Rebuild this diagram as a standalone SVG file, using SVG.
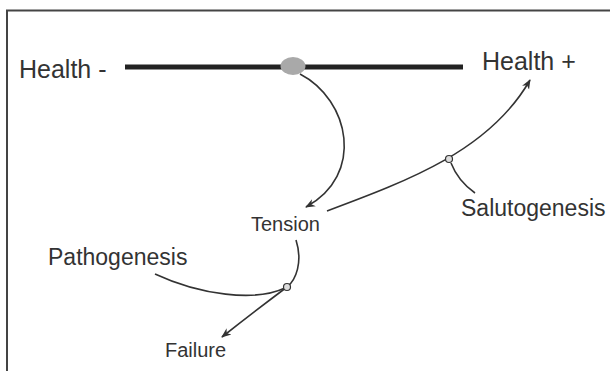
<svg xmlns="http://www.w3.org/2000/svg" width="610" height="371" viewBox="0 0 610 371">
<style>
text{font-family:"Liberation Sans",Arial,sans-serif;fill:#333}
.big{font-size:25px}
.mid{font-size:23px}
.sm{font-size:20px}
.c{fill:none;stroke:#333;stroke-width:1.6}
</style>
<defs>
<marker id="ah" viewBox="0 0 10 10" refX="9" refY="5" markerWidth="10" markerHeight="10" markerUnits="userSpaceOnUse" orient="auto">
<path d="M0,1 L10,5 L0,9 L3,5 Z" fill="#333"/>
</marker>
</defs>
<rect width="610" height="371" fill="#fff"/>
<path d="M7,371 V10.5 H610" fill="none" stroke="#444" stroke-width="2"/>
<g id="scale">
<line x1="125" y1="67" x2="463" y2="67" stroke="#222" stroke-width="5"/>
<ellipse cx="293" cy="66" rx="12.5" ry="9" fill="#a9a9a9"/>
</g>
<g id="health-minus"><text class="big" x="19" y="78">Health -</text></g>
<g id="health-plus"><text class="big" x="482" y="70">Health +</text></g>
<g id="tension"><text class="sm" x="251" y="231">Tension</text></g>
<g id="salutogenesis"><text class="mid" x="461" y="216">Salutogenesis</text></g>
<g id="pathogenesis"><text class="mid" x="48" y="265">Pathogenesis</text></g>
<g id="failure"><text class="sm" x="165" y="357">Failure</text></g>
<g id="connectors">
<path class="c" d="M300,74 C350,100 365,175 306,207" marker-end="url(#ah)"/>
<path class="c" d="M327,211 C410,180 490,150 530,80" marker-end="url(#ah)"/>
<path class="c" d="M451,163 Q458,181 475,193"/>
<path class="c" d="M296,240 C303,262 296,280 287,287"/>
<path class="c" d="M155,274 C200,295 255,302 285,288"/>
<path class="c" d="M287,287 Q255,311 222,337" marker-end="url(#ah)"/>
<circle cx="449" cy="159" r="3.5" fill="#ddd" stroke="#333" stroke-width="1.2"/>
<circle cx="287" cy="287" r="3.5" fill="#ddd" stroke="#333" stroke-width="1.2"/>
</g>
</svg>
